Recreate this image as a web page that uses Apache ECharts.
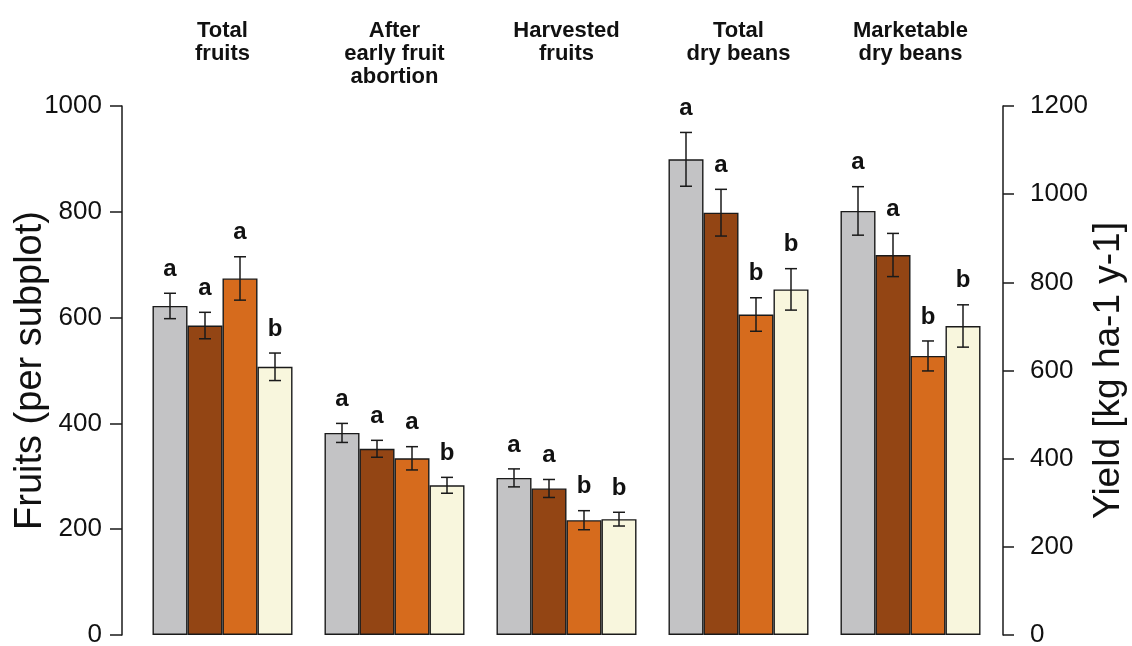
<!DOCTYPE html>
<html>
<head>
<meta charset="utf-8">
<style>
  html, body { margin: 0; padding: 0; background: #ffffff; }
  #chart { width: 1132px; height: 646px; }
</style>
<script src="https://cdn.jsdelivr.net/npm/echarts@6/dist/echarts.min.js"></script>
</head>
<body>
<div id="chart"></div>
<script>
// Panel headings (one per group of four bars)
const categories = ['Total\nfruits', 'After\nearly fruit\nabortion', 'Harvested\nfruits', 'Total\ndry beans', 'Marketable\ndry beans'];

// Fruit counts per subplot (first three groups, left axis)
const fruitT1 = [622, 382, 297];
const fruitT2 = [585, 352, 277];
const fruitT3 = [674, 334, 217];
const fruitT4 = [507, 283, 219];
const fruitErrT1 = [24, 18, 17];
const fruitErrT2 = [25, 16, 17];
const fruitErrT3 = [41, 22, 18];
const fruitErrT4 = [26, 15, 13];
const fruitLetT1 = ['a', 'a', 'a'];
const fruitLetT2 = ['a', 'a', 'a'];
const fruitLetT3 = ['a', 'a', 'b'];
const fruitLetT4 = ['b', 'b', 'b'];

// Dry bean yield, kg ha-1 y-1 (last two groups, right axis)
const yieldT1 = [1079, 962];
const yieldT2 = [958, 862];
const yieldT3 = [727, 633];
const yieldT4 = [784, 701];
const yieldErrT1 = [61, 55];
const yieldErrT2 = [53, 49];
const yieldErrT3 = [38, 34];
const yieldErrT4 = [47, 48];
const yieldLetT1 = ['a', 'a'];
const yieldLetT2 = ['a', 'a'];
const yieldLetT3 = ['b', 'b'];
const yieldLetT4 = ['b', 'b'];

// Axis ticks
const fruitTicks = { min: 0, max: 1000, interval: 200 };
const yieldTicks = { min: 0, max: 1200, interval: 200 };

const treatments = ['T1', 'T2', 'T3', 'T4'];
const colors = ['#c3c3c5', '#934514', '#d66b1d', '#f8f6dd'];

const fruits = [fruitT1, fruitT2, fruitT3, fruitT4];
const fruitErr = [fruitErrT1, fruitErrT2, fruitErrT3, fruitErrT4];
const fruitLet = [fruitLetT1, fruitLetT2, fruitLetT3, fruitLetT4];
const yields = [yieldT1, yieldT2, yieldT3, yieldT4];
const yieldErr = [yieldErrT1, yieldErrT2, yieldErrT3, yieldErrT4];
const yieldLet = [yieldLetT1, yieldLetT2, yieldLetT3, yieldLetT4];

const nFruit = fruitT1.length;
const BAR_W = 35;
const FONT = '"Liberation Sans", Arial, Helvetica, sans-serif';
const INK = '#1a1a1a';

const chart = echarts.init(document.getElementById('chart'), null, { renderer: 'canvas' });

const series = [];

// Bars: left-axis groups on xAxis 0, right-axis groups on xAxis 1
treatments.forEach((name, i) => {
  const left = categories.map((c, k) => (k < nFruit ? fruits[i][k] : '-'));
  const right = categories.map((c, k) => (k >= nFruit ? yields[i][k - nFruit] : '-'));
  const style = { color: colors[i], borderColor: INK, borderWidth: 1.4 };
  series.push({
    name: name, type: 'bar', xAxisIndex: 0, yAxisIndex: 0,
    barWidth: BAR_W, barGap: '0%', itemStyle: style, data: left, z: 2
  });
  series.push({
    name: name, type: 'bar', xAxisIndex: 1, yAxisIndex: 1,
    barWidth: BAR_W, barGap: '0%', itemStyle: style, data: right, z: 2
  });
});

// Error bars with significance letters
function errorRenderer(slot) {
  return function (params, api) {
    const cat = api.value(0);
    const v = api.value(1);
    const e = api.value(2);
    const letter = api.value(3);
    const dx = (slot - 1.5) * BAR_W;
    const top = api.coord([cat, v + e]);
    const bot = api.coord([cat, v - e]);
    const x = top[0] + dx;
    const cap = 6;
    const ls = { stroke: INK, lineWidth: 1.5 };
    return {
      type: 'group',
      children: [
        { type: 'line', shape: { x1: x, y1: top[1], x2: x, y2: bot[1] }, style: ls },
        { type: 'line', shape: { x1: x - cap, y1: top[1], x2: x + cap, y2: top[1] }, style: ls },
        { type: 'line', shape: { x1: x - cap, y1: bot[1], x2: x + cap, y2: bot[1] }, style: ls },
        {
          type: 'text',
          style: {
            x: x, y: top[1] - 12, text: letter,
            fill: '#111', font: 'bold 24px ' + FONT,
            textAlign: 'center', textVerticalAlign: 'bottom'
          }
        }
      ]
    };
  };
}

treatments.forEach((name, i) => {
  series.push({
    type: 'custom', xAxisIndex: 0, yAxisIndex: 0, z: 5, silent: true,
    renderItem: errorRenderer(i),
    encode: { x: 0, y: 1 },
    data: fruits[i].map((v, k) => [k, v, fruitErr[i][k], fruitLet[i][k]])
  });
  series.push({
    type: 'custom', xAxisIndex: 1, yAxisIndex: 1, z: 5, silent: true,
    renderItem: errorRenderer(i),
    encode: { x: 0, y: 1 },
    data: yields[i].map((v, k) => [k + nFruit, v, yieldErr[i][k], yieldLet[i][k]])
  });
});

const axisLineStyle = { color: INK, width: 1.5 };
const plainNumber = (v) => String(v);

chart.setOption({
  backgroundColor: '#ffffff',
  animation: false,
  grid: {
    left: 136.5, right: 135.5, top: 106, bottom: 11,
    containLabel: false, outerBoundsMode: 'none'
  },
  xAxis: [
    {
      type: 'category', data: categories, position: 'bottom',
      axisLine: { show: false }, axisTick: { show: false }, axisLabel: { show: false },
      splitLine: { show: false }
    },
    {
      type: 'category', data: categories, position: 'top',
      axisLine: { show: false }, axisTick: { show: false }, splitLine: { show: false },
      axisLabel: {
        show: true, interval: 0, margin: 87, verticalAlign: 'top',
        fontFamily: FONT, fontWeight: 'bold', fontSize: 22, lineHeight: 23, color: '#111'
      }
    }
  ],
  yAxis: [
    {
      type: 'value', position: 'left', offset: 14.5,
      min: fruitTicks.min, max: fruitTicks.max, interval: fruitTicks.interval,
      name: 'Fruits (per subplot)', nameLocation: 'middle', nameRotate: 90, nameGap: 72,
      nameMoveOverlap: false,
      nameTextStyle: { fontFamily: FONT, fontSize: 38, color: '#111' },
      axisLine: { show: true, lineStyle: axisLineStyle },
      axisTick: { show: true, length: 12, lineStyle: axisLineStyle },
      axisLabel: { margin: 20, fontFamily: FONT, fontSize: 26, color: '#111', formatter: plainNumber },
      splitLine: { show: false }
    },
    {
      type: 'value', position: 'right', offset: 6.5,
      min: yieldTicks.min, max: yieldTicks.max, interval: yieldTicks.interval,
      name: 'Yield [kg ha-1 y-1]', nameLocation: 'middle', nameRotate: 90, nameGap: 87,
      nameMoveOverlap: false,
      nameTextStyle: { fontFamily: FONT, fontSize: 37, color: '#111' },
      axisLine: { show: true, lineStyle: axisLineStyle },
      axisTick: { show: true, length: 11, lineStyle: axisLineStyle },
      axisLabel: { margin: 27, fontFamily: FONT, fontSize: 26, color: '#111', formatter: plainNumber },
      splitLine: { show: false }
    }
  ],
  series: series
});
</script>
</body>
</html>
